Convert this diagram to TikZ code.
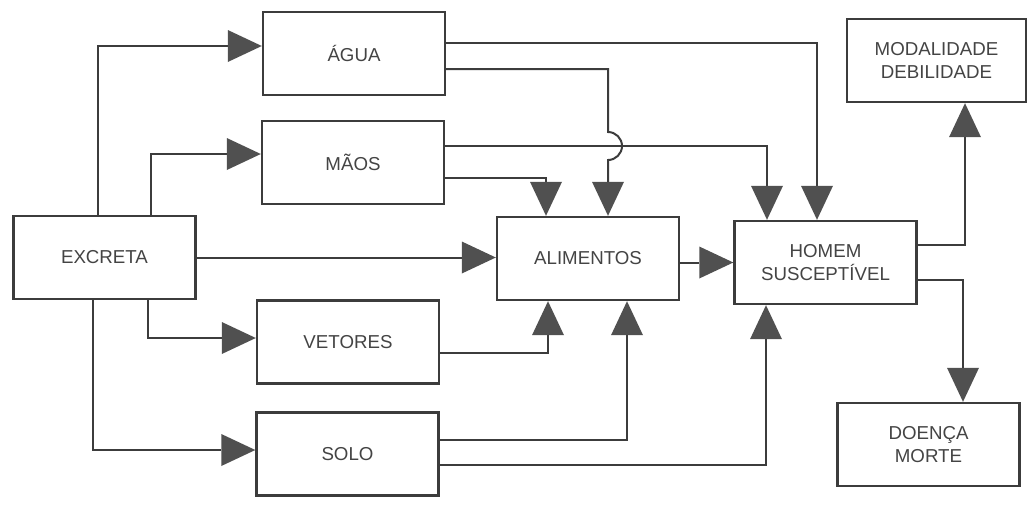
\documentclass[tikz,border=0pt]{standalone}
\usepackage{fontspec}
\setmainfont{Liberation Sans}
\usetikzlibrary{arrows.meta}
\definecolor{traco}{HTML}{3C3C3C}
\definecolor{ponta}{HTML}{505050}
\definecolor{letra}{HTML}{444444}
\tikzset{
    bloco/.style={draw=traco, line width=2.4pt, minimum width=182pt, minimum height=83pt,
        inner sep=0pt, align=center, text=letra, font=\fontsize{18.7}{23}\selectfont},
    seta/.style={draw=traco, line width=2pt,
        -{Triangle[length=34pt,width=32pt,fill=ponta,line width=0pt]}}
}
\begin{document}
\begin{tikzpicture}[x=1pt,y=-1pt]
    \useasboundingbox[fill=white] (0,0) rectangle (1031,504);
    \node[bloco] (agua) at (354,53.5) {ÁGUA};
    \node[bloco] (maos) at (353,162.5) {MÃOS};
    \node[bloco] (excreta) at (104.5,257.5) {EXCRETA};
    \node[bloco] (vetores) at (348,342) {VETORES};
    \node[bloco] (solo) at (347.5,454) {SOLO};
    \node[bloco] (alimentos) at (588,258.5) {ALIMENTOS};
    \node[bloco] (homem) at (825.5,262.5) {HOMEM\\SUSCEPTÍVEL};
    \node[bloco, minimum width=179pt] (modal) at (936.5,60.5) {MODALIDADE\\DEBILIDADE};
    \node[bloco] (doenca) at (928.5,444.5) {DOENÇA\\MORTE};
    \coordinate (salto) at (608,146);
    \draw[seta] ([xshift=86pt]excreta.north west) |- ([yshift=7.5pt]agua.west);
    \draw[seta] ([xshift=139pt]excreta.north west) |- ([yshift=8.5pt]maos.west);
    \draw[seta] (excreta.east) -- (excreta.east -| alimentos.west);
    \draw[seta] ([xshift=136pt]excreta.south west) |- ([yshift=4pt]vetores.west);
    \draw[seta] ([xshift=81pt]excreta.south west) |- ([yshift=4pt]solo.west);
    \draw[seta] ([yshift=10.5pt]agua.east) -| ([xshift=-8.5pt]homem.north);
    \draw[seta] ([yshift=-15.5pt]agua.east) -| ([yshift=14pt]salto)
        arc[start angle=90, end angle=-90, radius=14pt] -- ([xshift=20pt]alimentos.north);
    \draw[seta] ([yshift=16.5pt]maos.east) -| ([xshift=-58.5pt]homem.north);
    \draw[seta] ([yshift=-15.5pt]maos.east) -| ([xshift=-42pt]alimentos.north);
    \draw[seta] ([yshift=-11pt]vetores.east) -| ([xshift=-40pt]alimentos.south);
    \draw[seta] ([yshift=14pt]solo.east) -| ([xshift=39pt]alimentos.south);
    \draw[seta] ([yshift=-11pt]solo.east) -| ([xshift=-59.5pt]homem.south);
    \draw[seta] (homem.west -| alimentos.east) -- (homem.west);
    \draw[seta] ([yshift=17.5pt]homem.east) -| ([xshift=28.5pt]modal.south);
    \draw[seta] ([yshift=-17.5pt]homem.east) -| ([xshift=34.5pt]doenca.north);
\end{tikzpicture}
\end{document}
